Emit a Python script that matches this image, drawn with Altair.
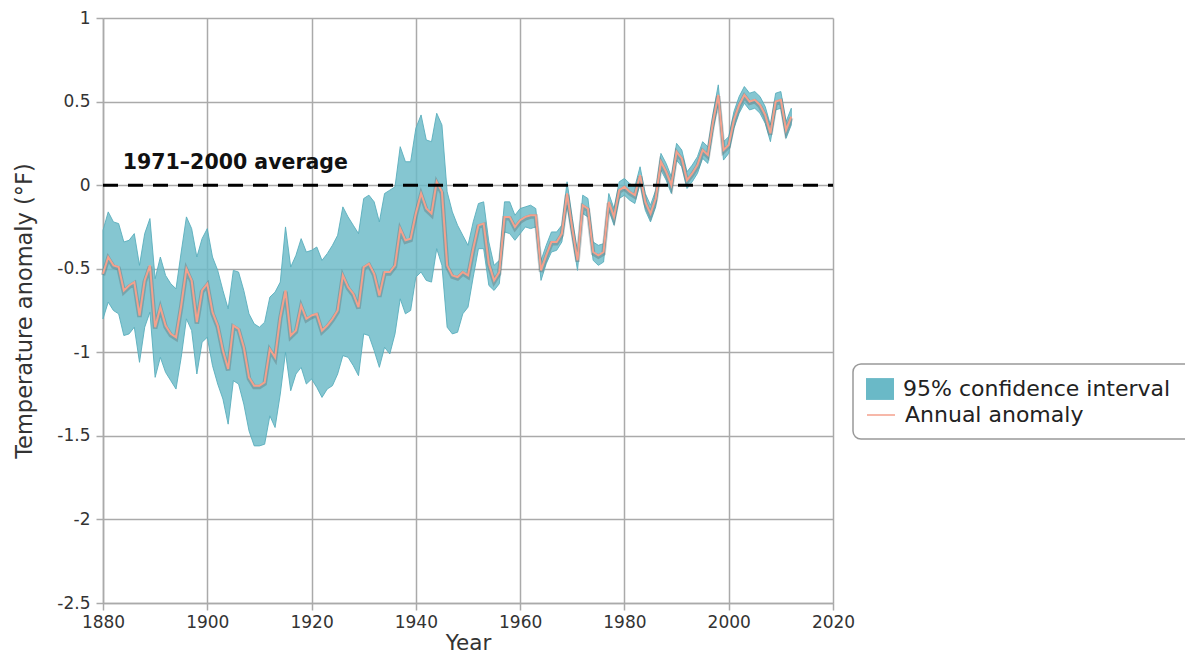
import altair as alt
import pandas as pd

years = list(range(1880, 2013))

anomaly = [
    -0.53, -0.43, -0.48, -0.49, -0.63, -0.60, -0.58, -0.78, -0.57, -0.48,
    -0.85, -0.73, -0.84, -0.89, -0.91, -0.72, -0.50, -0.57, -0.82, -0.63,
    -0.59, -0.76, -0.84, -0.99, -1.10, -0.84, -0.86, -0.97, -1.15, -1.20,
    -1.20, -1.18, -0.98, -1.03, -0.79, -0.63, -0.90, -0.87, -0.72, -0.80,
    -0.78, -0.77, -0.87, -0.84, -0.80, -0.75, -0.54, -0.61, -0.65, -0.73,
    -0.49, -0.47, -0.53, -0.66, -0.52, -0.52, -0.48, -0.26, -0.33, -0.32,
    -0.17, -0.05, -0.14, -0.17, 0.02, -0.04, -0.48, -0.54, -0.55, -0.52,
    -0.54, -0.38, -0.24, -0.23, -0.47, -0.57, -0.52, -0.19, -0.19, -0.25,
    -0.21, -0.19, -0.18, -0.18, -0.51, -0.42, -0.34, -0.34, -0.29, -0.05,
    -0.26, -0.45, -0.12, -0.14, -0.40, -0.42, -0.40, -0.10, -0.19, -0.03,
    -0.01, -0.04, -0.06, 0.06, -0.10, -0.17, -0.08, 0.14, 0.08, 0.00,
    0.20, 0.16, 0.03, 0.07, 0.12, 0.21, 0.18, 0.38, 0.54, 0.21,
    0.24, 0.39, 0.48, 0.54, 0.50, 0.51, 0.48, 0.42, 0.31, 0.50,
    0.51, 0.33, 0.41,
]

upper = [
    -0.27, -0.16, -0.22, -0.23, -0.34, -0.33, -0.29, -0.48, -0.29, -0.20,
    -0.56, -0.43, -0.54, -0.59, -0.62, -0.40, -0.19, -0.26, -0.43, -0.32,
    -0.26, -0.43, -0.51, -0.63, -0.74, -0.51, -0.52, -0.63, -0.77, -0.83,
    -0.85, -0.82, -0.67, -0.64, -0.58, -0.25, -0.49, -0.42, -0.32, -0.40,
    -0.39, -0.37, -0.45, -0.41, -0.36, -0.30, -0.13, -0.19, -0.24, -0.29,
    -0.08, -0.06, -0.10, -0.22, -0.05, -0.03, -0.01, 0.23, 0.14, 0.14,
    0.34, 0.42, 0.27, 0.26, 0.43, 0.36, -0.04, -0.16, -0.24, -0.30,
    -0.36, -0.22, -0.11, -0.10, -0.34, -0.48, -0.45, -0.10, -0.10, -0.18,
    -0.14, -0.13, -0.12, -0.14, -0.45, -0.36, -0.28, -0.28, -0.24, 0.02,
    -0.20, -0.40, -0.06, -0.08, -0.34, -0.36, -0.35, -0.05, -0.14, 0.02,
    0.04, 0.01, -0.01, 0.11, -0.05, -0.12, -0.03, 0.19, 0.13, 0.05,
    0.25, 0.21, 0.08, 0.12, 0.17, 0.26, 0.23, 0.43, 0.60, 0.26,
    0.29, 0.44, 0.53, 0.59, 0.55, 0.56, 0.53, 0.47, 0.36, 0.55,
    0.56, 0.38, 0.46,
]

lower = [
    -0.80, -0.70, -0.75, -0.77, -0.90, -0.89, -0.85, -1.06, -0.85, -0.76,
    -1.15, -1.03, -1.12, -1.17, -1.22, -1.03, -0.80, -0.87, -1.13, -0.94,
    -0.91, -1.08, -1.19, -1.28, -1.43, -1.17, -1.19, -1.31, -1.47, -1.56,
    -1.56, -1.55, -1.38, -1.45, -1.25, -1.00, -1.23, -1.13, -1.09, -1.19,
    -1.16, -1.21, -1.27, -1.22, -1.20, -1.13, -1.02, -1.03, -1.08, -1.14,
    -0.89, -0.90, -0.99, -1.09, -0.97, -1.01, -0.89, -0.68, -0.77, -0.75,
    -0.55, -0.52, -0.57, -0.58, -0.38, -0.48, -0.85, -0.89, -0.88, -0.77,
    -0.73, -0.55, -0.38, -0.38, -0.60, -0.63, -0.59, -0.28, -0.29, -0.33,
    -0.29, -0.25, -0.26, -0.25, -0.57, -0.47, -0.40, -0.39, -0.34, -0.12,
    -0.31, -0.51, -0.17, -0.19, -0.45, -0.48, -0.46, -0.15, -0.24, -0.08,
    -0.06, -0.09, -0.11, 0.01, -0.15, -0.22, -0.13, 0.09, 0.03, -0.05,
    0.15, 0.11, -0.02, 0.02, 0.07, 0.16, 0.13, 0.33, 0.49, 0.15,
    0.19, 0.34, 0.43, 0.49, 0.45, 0.46, 0.43, 0.37, 0.26, 0.45,
    0.46, 0.28, 0.36,
]

band_name = ["95% confidence interval"]
band_color = ["#6ab9c7"]
line_name = ["Annual anomaly"]
line_color = ["#f4a08c"]

x_ticks = [1880, 1900, 1920, 1940, 1960, 1980, 2000, 2020]
y_ticks = [-2.5, -2, -1.5, -1, -0.5, 0, 0.5, 1]

avg_start = [1880]
avg_end = [2020]
avg_value = [0]
avg_label = ["1971\u20132000 average"]
avg_label_x = [1883.8]
avg_label_y = [0.13]

df = pd.DataFrame({"year": years, "anomaly": anomaly, "upper": upper, "lower": lower})
avg_df = pd.DataFrame({"x": avg_start, "x2": avg_end, "y": avg_value})
lab_df = pd.DataFrame({"x": avg_label_x, "y": avg_label_y, "t": avg_label})

x_scale = alt.Scale(domain=[1880, 2020], nice=False, zero=False)
y_scale = alt.Scale(domain=[-2.5, 1], nice=False, zero=False)

x_axis = alt.Axis(values=x_ticks, format="d", title="Year", labelFontSize=17,
                  titleFontSize=21.5, titleFontWeight="normal", labelColor="#333",
                  titleColor="#333", gridColor="#aaaaaa", gridWidth=1.5,
                  domainColor="#aaaaaa", domainWidth=1.5, tickColor="#aaaaaa",
                  tickWidth=1.5, tickSize=7, labelPadding=4, titlePadding=2,
                  labelFlush=False)
y_axis = alt.Axis(values=y_ticks, labelExpr="datum.value + ''",
                  title="Temperature anomaly (\u00b0F)", labelFontSize=17,
                  titleFontSize=22.5, titleFontWeight="normal", labelColor="#333",
                  titleColor="#333", gridColor="#aaaaaa", gridWidth=1.5,
                  domainColor="#aaaaaa", domainWidth=1.5, tickColor="#aaaaaa",
                  tickWidth=1.5, tickSize=7, labelPadding=6, titlePadding=20)

band_legend = alt.Legend(
    title=None, orient="none", legendX=763, legendY=357,
    labelFontSize=22, labelColor="#222", labelFont="DejaVu Sans", labelLimit=500,
    symbolType="M-1,-0.78L1,-0.78L1,0.78L-1,0.78Z", symbolSize=784,
    symbolStrokeWidth=0, symbolOpacity=1, labelOffset=9, padding=0,
)
line_legend = alt.Legend(
    title=None, orient="none", legendX=763, legendY=382,
    labelFontSize=22, labelColor="#222", labelFont="DejaVu Sans", labelLimit=500,
    symbolType="stroke", symbolSize=784, symbolStrokeWidth=1.5,
    symbolOpacity=1, labelOffset=9, padding=0,
)

base = alt.Chart(df)

box = alt.Chart(pd.DataFrame({"k": [0]})).mark_rect(
    fill="white", stroke="#999999", strokeWidth=1.5, cornerRadius=8
).encode(x=alt.value(750), x2=alt.value(1110), y=alt.value(346), y2=alt.value(421))

band = base.transform_calculate(series="'95% confidence interval'").mark_area(
    fillOpacity=0.82, stroke="#5aaebd", strokeWidth=1, strokeOpacity=0.9
).encode(
    x=alt.X("year:Q", scale=x_scale, axis=x_axis),
    y=alt.Y("upper:Q", scale=y_scale, axis=y_axis),
    y2="lower:Q",
    fill=alt.Fill("series:N", scale=alt.Scale(domain=band_name, range=band_color),
                  legend=band_legend),
)

shadow = base.transform_calculate(sy="datum.anomaly - 0.008").mark_line(
    color="#555555", strokeWidth=4.5, opacity=0.3
).encode(x="year:Q", y="sy:Q")

line = base.transform_calculate(lseries="'Annual anomaly'").mark_line(
    strokeWidth=2
).encode(
    x="year:Q",
    y="anomaly:Q",
    stroke=alt.Stroke("lseries:N", scale=alt.Scale(domain=line_name, range=line_color),
                      legend=line_legend),
)

avg = alt.Chart(avg_df).mark_rule(color="black", strokeWidth=3, strokeDash=[15, 10]).encode(
    x="x:Q", x2="x2:Q", y="y:Q"
)

label = alt.Chart(lab_df).mark_text(
    align="left", baseline="middle", fontSize=20.5, fontWeight="bold", color="#111",
    font="DejaVu Sans"
).encode(x="x:Q", y="y:Q", text="t:N")

chart = alt.layer(box, band, shadow, line, avg, label).resolve_scale(
    fill="independent", stroke="independent"
).properties(
    width=730, height=585,
    autosize=alt.AutoSizeParams(type="none"),
    padding={"left": 95, "top": 10, "right": 352, "bottom": 56},
).configure(font="DejaVu Sans").configure_view(stroke=None)

chart.save("out.html", embed_options={"renderer": "svg", "actions": False})
